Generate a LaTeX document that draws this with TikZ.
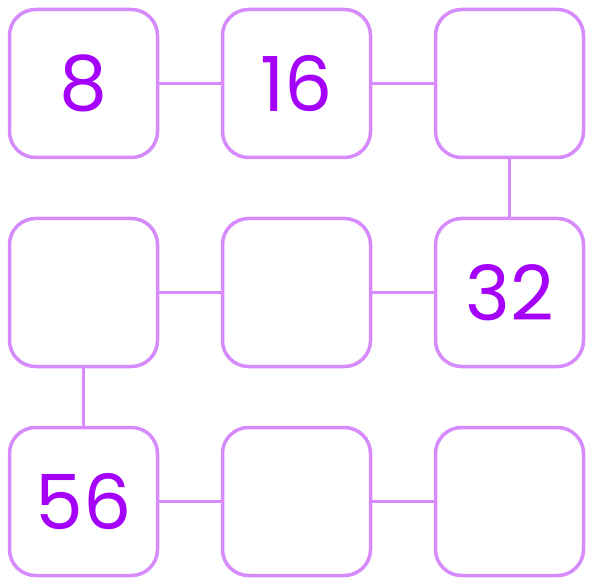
\documentclass[tikz,border=0pt]{standalone}
\usepackage{fontspec}
\setmainfont{Poppins}
\usepackage{xcolor}
\usetikzlibrary{positioning}
\definecolor{boxline}{HTML}{D68AFC}
\definecolor{numtext}{HTML}{A400FA}

\begin{document}
\begin{tikzpicture}[
    x=1pt, y=1pt,
    node distance=57.5pt and 61.5pt,
    cell/.style={draw=boxline, line width=3.5pt, rounded corners=26pt, minimum size=148pt, fill=white, font=\fontsize{76}{76}\selectfont, text=numtext},
    link/.style={draw=boxline, line width=3.5pt}
]
\useasboundingbox (0,0) rectangle (589,-580);
% top row
\node[cell] (c11) at (83.5,-83.5) {8};
\node[cell, right=of c11] (c12) {16};
\node[cell, right=of c12] (c13) {};
% middle row
\node[cell, below=of c11] (c21) {};
\node[cell, right=of c21] (c22) {};
\node[cell, right=of c22] (c23) {32};
% bottom row
\node[cell, below=of c21] (c31) {56};
\node[cell, right=of c31] (c32) {};
\node[cell, right=of c32] (c33) {};
\draw[link] (c11) -- (c12);
\draw[link] (c12) -- (c13);
\draw[link] (c13) -- (c23);
\draw[link] (c21) -- (c22);
\draw[link] (c22) -- (c23);
\draw[link] (c21) -- (c31);
\draw[link] (c31) -- (c32);
\draw[link] (c32) -- (c33);
\end{tikzpicture}
\end{document}
